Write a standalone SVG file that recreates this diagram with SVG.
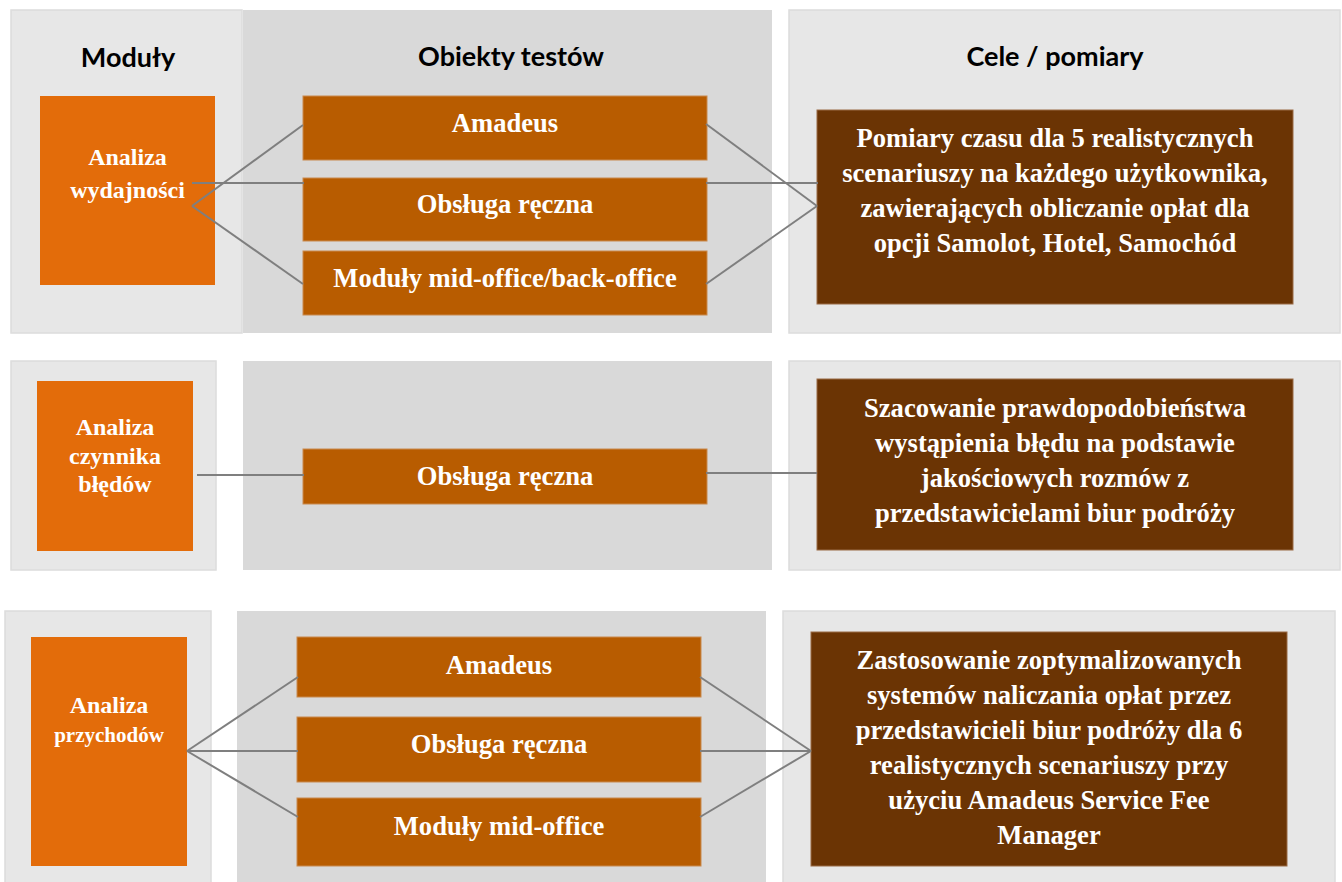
<svg xmlns="http://www.w3.org/2000/svg" width="1342" height="882" viewBox="0 0 1342 882">
<style>
.bg{fill:#ffffff}
.pl{fill:#e7e7e7;stroke:#dcdcdc;stroke-width:1.5}
.pm{fill:#d9d9d9}
.mod{fill:#e36c0a}
.obj{fill:#b85c00;stroke:#c98a4f;stroke-width:1}
.goal{fill:#6b3404;stroke:#9a6a45;stroke-width:1}
.hd{font-family:Lato,"Liberation Sans",sans-serif;font-weight:bold;font-size:27px;fill:#000;text-anchor:middle}
.t{font-family:"Liberation Serif","Times New Roman",serif;font-weight:bold;fill:#fff;text-anchor:middle}
.t24{font-size:24px}
.t21{font-size:21px}
.t26{font-size:26.6px}
.con line{stroke:#7f7f7f;stroke-width:2;fill:none}
</style>
<rect class="bg" x="0" y="0" width="1342" height="882"/>
<g id="panels">
<rect class="pl" x="11" y="10" width="231" height="323"/>
<rect class="pm" x="243" y="10" width="529" height="323"/>
<rect class="pl" x="789" y="10" width="551" height="323"/>
<rect class="pl" x="11" y="361" width="205" height="209"/>
<rect class="pm" x="243" y="361" width="529" height="209"/>
<rect class="pl" x="789" y="361" width="551" height="209"/>
<rect class="pl" x="5" y="611" width="206" height="272"/>
<rect class="pm" x="237" y="611" width="529" height="271"/>
<rect class="pl" x="783" y="611" width="552" height="272"/>
</g>
<g id="headers">
<text class="hd" x="128" y="67">Moduły</text>
<text class="hd" x="511" y="66">Obiekty testów</text>
<text class="hd" x="1055" y="66">Cele / pomiary</text>
</g>
<g id="mod-wydajnosc">
<rect class="mod" x="40" y="96" width="175" height="189"/>
<text class="t t24" x="127.5" y="165">Analiza</text>
<text class="t t24" x="127.5" y="198">wydajności</text>
</g>
<g id="obj1-amadeus">
<rect class="obj" x="303" y="96" width="404" height="64"/>
<text class="t t26" x="505" y="132">Amadeus</text>
</g>
<g id="obj1-reczna">
<rect class="obj" x="303" y="178" width="404" height="63"/>
<text class="t t26" x="505" y="213">Obsługa ręczna</text>
</g>
<g id="obj1-midback">
<rect class="obj" x="303" y="251" width="404" height="64"/>
<text class="t t26" x="505" y="287">Moduły mid-office/back-office</text>
</g>
<g id="goal1">
<rect class="goal" x="817" y="110" width="476" height="194"/>
<text class="t t26" x="1055" y="147">Pomiary czasu dla 5 realistycznych</text>
<text class="t t26" x="1055" y="182">scenariuszy na każdego użytkownika,</text>
<text class="t t26" x="1055" y="217">zawierających obliczanie opłat dla</text>
<text class="t t26" x="1055" y="252">opcji Samolot, Hotel, Samochód</text>
</g>
<g id="mod-bledy">
<rect class="mod" x="37" y="381" width="156" height="170"/>
<text class="t t24" x="115" y="435">Analiza</text>
<text class="t t24" x="115" y="464">czynnika</text>
<text class="t t24" x="115" y="492">błędów</text>
</g>
<g id="obj2-reczna">
<rect class="obj" x="303" y="449" width="404" height="55"/>
<text class="t t26" x="505" y="485">Obsługa ręczna</text>
</g>
<g id="goal2">
<rect class="goal" x="817" y="379" width="476" height="171"/>
<text class="t t26" x="1055" y="417">Szacowanie prawdopodobieństwa</text>
<text class="t t26" x="1055" y="452">wystąpienia błędu na podstawie</text>
<text class="t t26" x="1055" y="487">jakościowych rozmów z</text>
<text class="t t26" x="1055" y="522">przedstawicielami biur podróży</text>
</g>
<g id="mod-przychody">
<rect class="mod" x="31" y="637" width="156" height="229"/>
<text class="t t24" x="109" y="713">Analiza</text>
<text class="t t21" x="109" y="742">przychodów</text>
</g>
<g id="obj3-amadeus">
<rect class="obj" x="297" y="637" width="404" height="60"/>
<text class="t t26" x="499" y="674">Amadeus</text>
</g>
<g id="obj3-reczna">
<rect class="obj" x="297" y="717" width="404" height="65"/>
<text class="t t26" x="499" y="753">Obsługa ręczna</text>
</g>
<g id="obj3-mid">
<rect class="obj" x="297" y="798" width="404" height="68"/>
<text class="t t26" x="499" y="835">Moduły mid-office</text>
</g>
<g id="goal3">
<rect class="goal" x="811" y="632" width="476" height="234"/>
<text class="t t26" x="1049" y="669">Zastosowanie zoptymalizowanych</text>
<text class="t t26" x="1049" y="704">systemów naliczania opłat przez</text>
<text class="t t26" x="1049" y="739">przedstawicieli biur podróży dla 6</text>
<text class="t t26" x="1049" y="774">realistycznych scenariuszy przy</text>
<text class="t t26" x="1049" y="809">użyciu Amadeus Service Fee</text>
<text class="t t26" x="1049" y="844">Manager</text>
</g>
<g class="con" id="connectors">
<line x1="192" y1="183" x2="304" y2="183"/>
<line x1="192" y1="206" x2="303" y2="125"/>
<line x1="192" y1="206" x2="303" y2="284"/>
<line x1="706" y1="124" x2="817" y2="206"/>
<line x1="706" y1="183" x2="818" y2="183"/>
<line x1="706" y1="284" x2="817" y2="206"/>
<line x1="197" y1="475" x2="304" y2="475"/>
<line x1="706" y1="473" x2="817" y2="473"/>
<line x1="187" y1="751" x2="298" y2="677"/>
<line x1="187" y1="751" x2="298" y2="751"/>
<line x1="187" y1="751" x2="298" y2="817"/>
<line x1="700" y1="677" x2="811" y2="751"/>
<line x1="700" y1="751" x2="811" y2="751"/>
<line x1="700" y1="817" x2="811" y2="751"/>
</g>
</svg>
